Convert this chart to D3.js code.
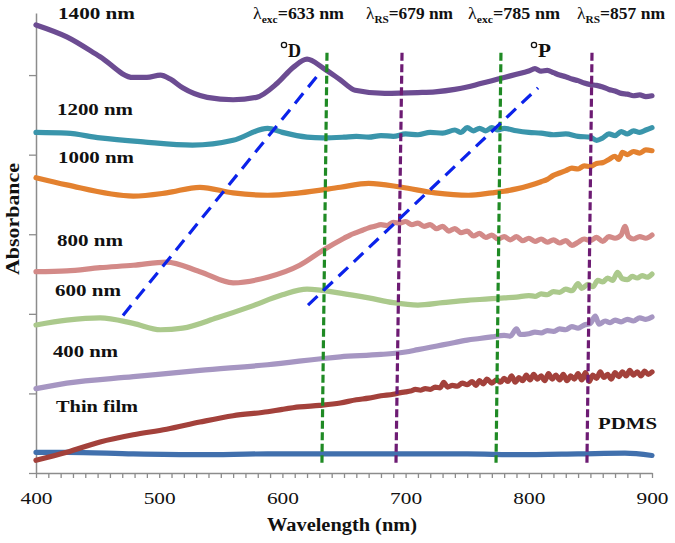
<!DOCTYPE html>
<html><head><meta charset="utf-8">
<script src="https://cdn.jsdelivr.net/npm/d3@7"></script>
<style>body{margin:0;background:#fff}svg{display:block}text{font-family:"Liberation Serif","Times New Roman",serif}</style>
</head><body><svg id="c" width="675" height="543"></svg>
<script>
// ---------- data ----------
const xTicks = [400,500,600,700,800,900];
const yTicks = [0,1,2,3,4,5];
const seriesNames = ["1400 nm","1200 nm","1000 nm","800 nm","600 nm","400 nm","Thin film","PDMS"];

const s1400 = [[400,5.63],[425,5.48],[452,5.23],[479,4.97],[490,4.97],[501,5.00],[509,4.95],[519,4.84],[539,4.72],[560,4.69],[579,4.72],[596,4.90],[609,5.10],[620,5.20],[633,5.09],[647,4.94],[659,4.81],[683,4.77],[710,4.78],[724,4.79],[740,4.82],[750,4.85],[760,4.89],[770,4.93],[780,4.97],[790,5.01],[795,5.03],[800,5.05],[805,5.08],[810,5.05],[815,5.06],[820,5.03],[825,5.00],[830,4.98],[835,4.95],[840,4.93],[845,4.90],[850,4.88],[855,4.87],[860,4.85],[865,4.82],[870,4.80],[875,4.77],[880,4.76],[885,4.74],[890,4.75],[895,4.73],[900,4.74]];
const s1200 = [[400,4.28],[425,4.27],[452,4.21],[487,4.16],[527,4.12],[560,4.18],[588,4.33],[600,4.28],[620,4.22],[633,4.21],[650,4.22],[660,4.23],[670,4.22],[680,4.24],[690,4.23],[700,4.26],[710,4.25],[720,4.28],[730,4.27],[740,4.31],[745,4.28],[750,4.34],[755,4.30],[760,4.33],[765,4.30],[770,4.34],[775,4.31],[780,4.33],[790,4.30],[800,4.28],[810,4.27],[820,4.25],[830,4.26],[840,4.23],[850,4.22],[855,4.18],[860,4.21],[865,4.26],[870,4.24],[875,4.29],[880,4.26],[885,4.30],[890,4.28],[895,4.31],[900,4.34]];
const s1000 = [[400,3.71],[425,3.62],[479,3.48],[506,3.52],[533,3.59],[560,3.52],[588,3.49],[614,3.52],[647,3.59],[670,3.64],[697,3.59],[724,3.52],[751,3.49],[770,3.52],[780,3.54],[790,3.57],[800,3.61],[810,3.66],[815,3.69],[820,3.74],[825,3.77],[830,3.80],[835,3.83],[840,3.82],[845,3.86],[850,3.85],[855,3.89],[860,3.90],[865,3.94],[870,3.98],[873,3.94],[876,4.03],[880,4.00],[885,4.04],[890,4.02],[895,4.06],[900,4.05]];
const s800 = [[400,2.53],[425,2.54],[452,2.58],[479,2.61],[506,2.65],[533,2.53],[560,2.39],[588,2.46],[614,2.61],[633,2.80],[650,2.95],[655,2.99],[660,3.02],[665,3.05],[670,3.08],[675,3.10],[680,3.12],[685,3.11],[690,3.15],[695,3.14],[700,3.16],[705,3.12],[710,3.14],[715,3.10],[720,3.12],[725,3.07],[730,3.10],[735,3.04],[740,3.07],[745,3.02],[750,3.04],[755,2.98],[760,3.01],[765,2.96],[770,2.99],[775,2.94],[780,2.97],[785,2.93],[790,2.97],[795,2.92],[800,2.95],[805,2.91],[810,2.94],[815,2.90],[820,2.93],[825,2.89],[830,2.92],[835,2.86],[840,2.90],[845,2.94],[850,2.92],[855,2.96],[860,2.91],[865,2.97],[870,2.95],[875,2.99],[878,3.10],[881,2.97],[885,2.94],[890,2.97],[895,2.95],[900,2.99]];
const s600 = [[400,1.86],[425,1.92],[452,1.95],[479,1.88],[501,1.80],[519,1.82],[547,1.95],[574,2.09],[600,2.24],[620,2.31],[647,2.26],[670,2.20],[690,2.14],[710,2.11],[730,2.14],[750,2.17],[760,2.18],[770,2.19],[780,2.20],[790,2.21],[800,2.23],[805,2.22],[810,2.25],[815,2.24],[820,2.28],[825,2.27],[830,2.31],[835,2.29],[840,2.38],[843,2.32],[848,2.37],[852,2.34],[856,2.42],[860,2.40],[864,2.45],[868,2.42],[872,2.52],[876,2.44],[880,2.43],[884,2.47],[888,2.45],[892,2.48],[896,2.46],[900,2.50]];
const s400 = [[400,1.06],[425,1.13],[479,1.21],[533,1.29],[588,1.36],[647,1.46],[680,1.49],[700,1.52],[710,1.55],[720,1.58],[730,1.61],[740,1.64],[750,1.67],[760,1.69],[770,1.71],[780,1.73],[785,1.72],[790,1.81],[793,1.74],[800,1.75],[805,1.77],[810,1.76],[815,1.79],[820,1.78],[825,1.81],[830,1.80],[835,1.84],[840,1.82],[845,1.86],[850,1.88],[854,1.97],[857,1.87],[862,1.91],[866,1.89],[870,1.92],[875,1.90],[880,1.93],[885,1.91],[890,1.95],[895,1.93],[900,1.96]];
const sThin = [[400,0.16],[425,0.26],[452,0.39],[479,0.48],[506,0.55],[533,0.64],[560,0.72],[588,0.77],[600,0.80],[614,0.83],[630,0.85],[647,0.88],[660,0.92],[670,0.94],[680,0.97],[690,0.99],[696,1.01],[700,1.02],[704,1.03],[708,1.05],[712,1.04],[716,1.06],[720,1.05],[724,1.08],[728,1.07],[731,1.14],[734,1.08],[738,1.10],[742,1.09],[746,1.13],[750,1.11],[754,1.15],[757,1.10],[760,1.16],[763,1.12],[766,1.18],[770,1.13],[774,1.17],[777,1.14],[780,1.19],[783,1.15],[786,1.22],[789,1.14],[792,1.20],[795,1.16],[798,1.23],[801,1.17],[804,1.24],[807,1.18],[810,1.22],[813,1.16],[816,1.25],[819,1.18],[822,1.23],[825,1.17],[828,1.24],[831,1.16],[834,1.22],[837,1.18],[840,1.25],[843,1.17],[846,1.26],[849,1.15],[852,1.23],[855,1.19],[858,1.27],[861,1.20],[864,1.24],[867,1.18],[870,1.26],[873,1.21],[876,1.27],[879,1.22],[882,1.29],[885,1.23],[888,1.27],[891,1.22],[894,1.28],[897,1.24],[900,1.27]];
const sPDMS = [[400,0.26],[425,0.26],[479,0.24],[533,0.23],[588,0.24],[647,0.24],[700,0.24],[750,0.24],[791,0.23],[840,0.24],[878,0.25],[900,0.22]];

// marker (dashed vertical) lines: wavelength at top and bottom of the drawn line
const markerNames = ["exc","RS","exc","RS"];
const markerValues = [633,679,785,857];
const markerTopX = [636.2,697.1,777.4,851.3];
const markerBottomX = [632.1,692.2,773.4,847.2];
const markerTopY = 5.28, markerBottomY = 0.13;

// blue dashed guide lines [x1,y1,x2,y2]
const guideD = [470.6,1.98,628.9,5.00];
const guideP = [620.8,2.11,807.5,4.84];

// ---------- drawing ----------
const svg = d3.select("#c");
const x = d3.scaleLinear().domain([400,900]).range([36,652]);
const y = d3.scaleLinear().domain([0,5.78]).range([473,13]);
const axisColor = "#8c8c8c";

const series = [
  {name:"1400 nm", data:s1400, color:"#6c4c92"},
  {name:"1200 nm", data:s1200, color:"#3a95ab"},
  {name:"1000 nm", data:s1000, color:"#e3812f"},
  {name:"800 nm",  data:s800,  color:"#d38a88"},
  {name:"600 nm",  data:s600,  color:"#abc98c"},
  {name:"400 nm",  data:s400,  color:"#a696c2"},
  {name:"Thin film", data:sThin, color:"#a3413b"},
  {name:"PDMS", data:sPDMS, color:"#4170ad"}
];

// axes
const gx = svg.append("g").attr("transform","translate(0,473)")
  .call(d3.axisBottom(x).tickValues(d3.range(400,901,10)).tickSize(5).tickSizeOuter(0)
    .tickPadding(14).tickFormat(d => xTicks.includes(d) ? d : ""));
gx.select(".domain").attr("stroke",axisColor).attr("stroke-width",1.5);
gx.selectAll(".tick line").attr("stroke",axisColor).attr("stroke-width",1.3);
gx.selectAll(".tick text").attr("font-size","17px").attr("fill","#111")
  .style("font-family","'Liberation Serif',serif")
  .attr("textLength",d => xTicks.includes(d) ? 32 : null).attr("lengthAdjust","spacingAndGlyphs");

const gy = svg.append("g").attr("transform","translate(36,0)")
  .call(d3.axisLeft(y).tickValues(yTicks).tickSize(7).tickSizeOuter(0).tickFormat(""));
gy.select(".domain").attr("stroke",axisColor).attr("stroke-width",1.5);
gy.selectAll(".tick line").attr("stroke",axisColor).attr("stroke-width",1.3);

// curves
const line = d3.line().x(d => x(d[0])).y(d => y(d[1])).curve(d3.curveMonotoneX);
svg.append("g").selectAll("path").data(series.slice().reverse()).join("path")
  .attr("d", d => line(d.data)).attr("fill","none").attr("stroke", d => d.color)
  .attr("stroke-width",5.2).attr("stroke-linejoin","round").attr("stroke-linecap","round");

// vertical dashed markers
const markerColors = ["#1f8a24","#6d1b73","#1f8a24","#6d1b73"];
svg.append("g").selectAll("line").data(markerValues).join("line")
  .attr("x1",(d,i)=>x(markerTopX[i])).attr("x2",(d,i)=>x(markerBottomX[i]))
  .attr("y1",y(markerTopY)).attr("y2",y(markerBottomY))
  .attr("stroke",(d,i)=>markerColors[i]).attr("stroke-width",3.2).attr("stroke-dasharray","8,3.5");

// blue guides
svg.append("g").selectAll("line").data([guideD,guideP]).join("line")
  .attr("x1",d=>x(d[0])).attr("y1",d=>y(d[1])).attr("x2",d=>x(d[2])).attr("y2",d=>y(d[3]))
  .attr("stroke","#0b22ea").attr("stroke-width",3.2).attr("stroke-dasharray","13,8");

// labels
function label(px, py, str, w, size, weight){
  const t = svg.append("text").attr("x",px).attr("y",py).attr("font-size",size||17)
    .attr("font-weight",weight||"bold").attr("fill","#111").text(str);
  if (w) t.attr("textLength",w).attr("lengthAdjust","spacingAndGlyphs");
  return t;
}
const seriesLabelPos = [[58,19,77],[57,115,76],[58,163,76],[57,246,66],[55,296,66],[53,357,65],[56,412,82],[598,429,59]];
seriesNames.forEach((n,i)=>{ const p = seriesLabelPos[i]; label(p[0],p[1],n,p[2]); });

const markerLabelPos = [[253,91],[366,87],[468,92],[577,88]];
markerValues.forEach((v,i)=>{
  const p = markerLabelPos[i];
  const t = svg.append("text").attr("x",p[0]).attr("y",19).attr("font-size",17).attr("font-weight","bold")
    .attr("fill","#111").attr("textLength",p[1]).attr("lengthAdjust","spacingAndGlyphs");
  t.append("tspan").attr("font-weight","normal").text("λ");
  t.append("tspan").attr("font-size",11).attr("dy",4).text(markerNames[i]);
  t.append("tspan").attr("dy",-4).text("=" + v + " nm");
});

// peak markers
[["D",281,57],["P",531,57]].forEach(([s,px,py])=>{
  svg.append("circle").attr("cx",px+3).attr("cy",py-12).attr("r",2.6).attr("fill","none").attr("stroke","#111").attr("stroke-width",1.3);
  label(px+7,py,s,13,18);
});

// axis titles
label(267,531,"Wavelength (nm)",150,18);
svg.append("text").attr("transform","translate(19,275) rotate(-90)").attr("font-size",18)
  .attr("font-weight","bold").attr("fill","#111").attr("textLength",112).attr("lengthAdjust","spacingAndGlyphs").text("Absorbance");
</script></body></html>
